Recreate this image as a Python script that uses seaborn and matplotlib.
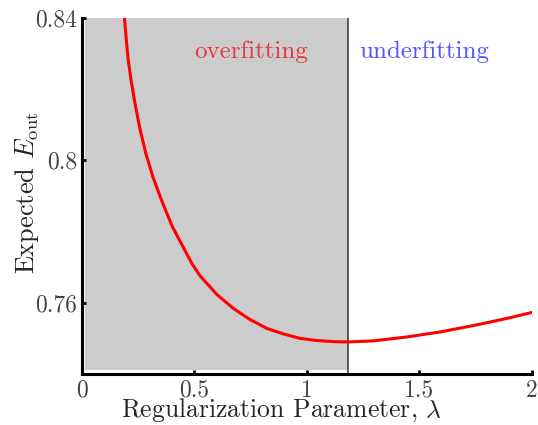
import matplotlib
matplotlib.use("Agg")
import matplotlib.pyplot as plt
from matplotlib.ticker import FuncFormatter
import pandas as pd
import seaborn as sns

# Expected out-of-sample error versus the regularization parameter
lam = [0.1750, 0.1889, 0.1969, 0.2053, 0.2178, 0.2347, 0.2578, 0.2844, 0.3156, 0.3511,
       0.4000, 0.4600, 0.4889, 0.5244, 0.6000, 0.6733, 0.7467, 0.8222, 0.8933, 0.9689,
       1.0444, 1.1156, 1.1822, 1.2947, 1.4431, 1.5911, 1.7391, 1.8876, 2.0000]
e_out = [0.8504, 0.8400, 0.8339, 0.8283, 0.8227, 0.8163, 0.8088, 0.8018, 0.7953, 0.7892,
         0.7816, 0.7744, 0.7710, 0.7676, 0.7623, 0.7584, 0.7553, 0.7528, 0.7513, 0.7500,
         0.7494, 0.7491, 0.7490, 0.7493, 0.7504, 0.7518, 0.7536, 0.7556, 0.7573]

x_ticks = [0, 0.5, 1, 1.5, 2]
y_ticks = [0.76, 0.8, 0.84]
lam_opt = 1.182
region_labels = ["overfitting", "underfitting"]

df = pd.DataFrame({"lam": lam, "e_out": e_out})

sns.set_style("ticks")
plt.rcParams["font.family"] = ["cmr10", "DejaVu Serif"]
plt.rcParams["mathtext.fontset"] = "cm"
plt.rcParams["axes.unicode_minus"] = False
plt.rcParams["axes.formatter.use_mathtext"] = True

fig = plt.figure(figsize=(5.38, 4.25), dpi=100)
ax = fig.add_axes([0.1524, 0.12, 0.8364, 0.8376])

ax.set_xlim(0, 2)
ax.set_ylim(0.74, 0.84)

# shaded overfitting region and boundary at the optimal lambda
ax.fill_between([0.013, lam_opt], 0.7412, 0.84, color="#cccccc", lw=0, zorder=0)
ax.axvline(lam_opt, color="#333333", lw=1.1, zorder=1)

sns.lineplot(data=df, x="lam", y="e_out", ax=ax, color="red", lw=2.2, zorder=3)

ax.text(0.75, 0.8305, region_labels[0], color="#e8383c", fontsize=18,
        ha="center", va="center")
ax.text(1.52, 0.8305, region_labels[1], color="#5555ff", fontsize=18,
        ha="center", va="center")

ax.set_xticks(x_ticks)
ax.set_yticks(y_ticks)
fmt = FuncFormatter(lambda v, p: "%g" % round(v, 3))
ax.xaxis.set_major_formatter(fmt)
ax.yaxis.set_major_formatter(fmt)
ax.tick_params(direction="in", length=3, width=2, labelsize=17, colors="black",
               labelcolor="#444444")
ax.tick_params(axis="x", pad=4)
ax.tick_params(axis="y", pad=3.5)

ax.set_xlabel(r"Regularization Parameter, $\lambda$", fontsize=18.5, labelpad=-4)
ax.xaxis.label.set_x(0.444)
ax.set_ylabel(r"Expected $E_{\rm out}$", fontsize=19, labelpad=-4)
ax.yaxis.label.set_y(0.51)

for s in ["top", "right"]:
    ax.spines[s].set_visible(False)
for s in ["left", "bottom"]:
    ax.spines[s].set_linewidth(2.2)
    ax.spines[s].set_color("black")

fig.savefig("out.png", dpi=100)
